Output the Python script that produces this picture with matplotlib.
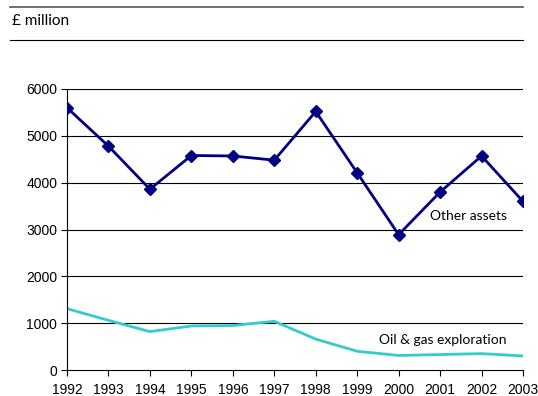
import matplotlib
matplotlib.use('Agg')
import matplotlib.pyplot as plt
from matplotlib.lines import Line2D

years = [1992, 1993, 1994, 1995, 1996, 1997, 1998, 1999, 2000, 2001, 2002, 2003]
other_assets = [5600, 4780, 3860, 4580, 4570, 4480, 5520, 4210, 2890, 3800, 4570, 3600]
oil_gas = [1310, 1060, 820, 940, 950, 1040, 660, 400, 310, 330, 350, 300]
y_ticks = [0, 1000, 2000, 3000, 4000, 5000, 6000]

plt.rcParams['font.family'] = ['Liberation Sans', 'DejaVu Sans']
label_font = ['Lato', 'DejaVu Sans']

fig = plt.figure(figsize=(5.38, 3.96), dpi=100)
ax = fig.add_axes([67 / 538, 26 / 396, 456 / 538, 281 / 396])

for v in y_ticks[1:]:
    ax.axhline(v, color='black', lw=0.8, zorder=1)

ax.plot(years, oil_gas, color='#33CCCC', lw=2, zorder=2)
ax.plot(years, other_assets, color='#000080', lw=2, marker='D', markersize=6.5, zorder=3)

ax.set_xlim(years[0], years[-1])
ax.set_ylim(0, 6000)
ax.set_yticks(y_ticks)
ax.set_xticks(years)
ax.tick_params(axis='both', labelsize=10, length=4, width=0.8, color='black', pad=3)
ax.tick_params(axis='x', pad=5.5)
for side in ['top', 'right']:
    ax.spines[side].set_visible(False)
for side in ['left', 'bottom']:
    ax.spines[side].set_linewidth(0.8)

ax.text(2002.61, 3290, 'Other assets', family=label_font, fontsize=10, ha='right', va='center')
ax.text(2002.61, 640, 'Oil & gas exploration', family=label_font, fontsize=10, ha='right', va='center')

# header rules and unit label
fig.add_artist(Line2D([10 / 538, 523 / 538], [1 - 7 / 396, 1 - 7 / 396], color='#555555', lw=1.2))
fig.add_artist(Line2D([10 / 538, 523 / 538], [1 - 40 / 396, 1 - 40 / 396], color='black', lw=0.8))
fig.text(12 / 538, 1 - 21 / 396, '£ million', family=label_font, fontsize=11, va='center')

fig.savefig('out.png', dpi=100)
